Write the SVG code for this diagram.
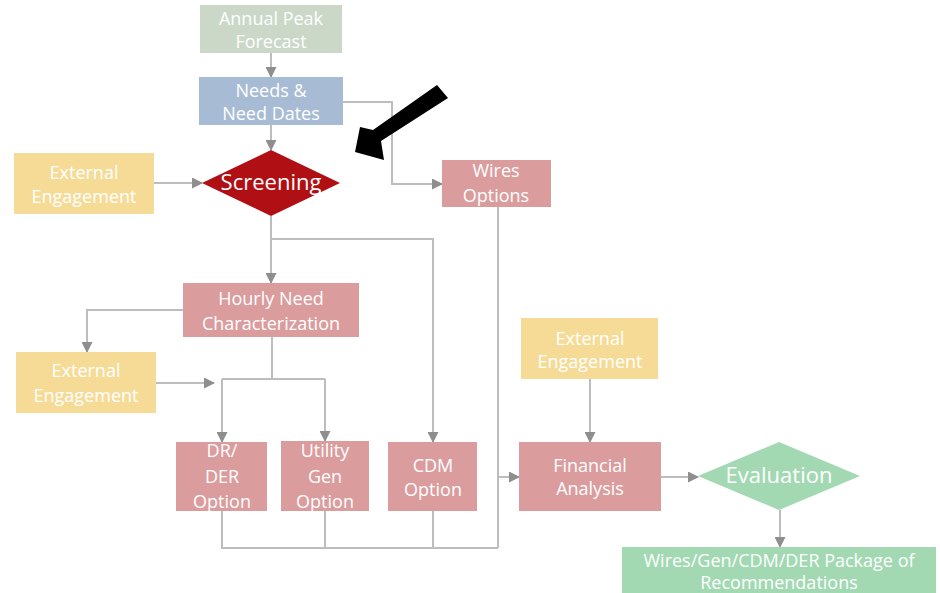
<svg xmlns="http://www.w3.org/2000/svg" width="940" height="593" viewBox="0 0 940 593">
<defs>
<marker id="ah" markerUnits="userSpaceOnUse" markerWidth="11" markerHeight="11" refX="10" refY="5.5" orient="auto">
<path d="M0,0 L11,5.5 L0,11 z" fill="#8e8e8e"/>
</marker>
<style>
.c{fill:none;stroke:#bdbdbd;stroke-width:2}
.a{marker-end:url(#ah)}
.t{font-family:"Open Sans","Noto Sans",sans-serif;font-size:18px;fill:#ffffff;text-anchor:middle}
.big{font-size:22px}
.g{fill:#cbd8c8}
.b{fill:#a7bcd4}
.y{fill:#f6db96}
.p{fill:#db9c9e}
.gr{fill:#a2d9b3}
</style>
</defs>
<rect width="940" height="593" fill="#ffffff"/>
<g id="connectors">
<path class="c a" d="M271,53 V77"/>
<path class="c a" d="M271,125 V150"/>
<path class="c a" d="M343,102 H392 V184 H442"/>
<path class="c a" d="M154,183 H202"/>
<path class="c a" d="M271,216 V283"/>
<path class="c a" d="M271,239 H433 V442"/>
<path class="c a" d="M183,310 H87 V352"/>
<path class="c a" d="M156,383 H214"/>
<path class="c" d="M272,337 V379"/>
<path class="c" d="M222,379 H325"/>
<path class="c a" d="M222,379 V442"/>
<path class="c a" d="M325,379 V441"/>
<path class="c" d="M222,511 V548 H498"/>
<path class="c" d="M325,511 V548"/>
<path class="c" d="M433,511 V548"/>
<path class="c" d="M498,207 V548"/>
<path class="c a" d="M498,477 H519"/>
<path class="c a" d="M590,379 V442"/>
<path class="c a" d="M661,477 H698"/>
<path class="c a" d="M780,510 V547"/>
</g>
<g id="annual"><rect class="g" x="200" y="5" width="142" height="48"/><text class="t" x="271" y="25">Annual Peak</text><text class="t" x="271" y="48">Forecast</text></g>
<g id="needs"><rect class="b" x="199" y="77" width="144" height="48"/><text class="t" x="271" y="97">Needs &amp;</text><text class="t" x="271" y="120">Need Dates</text></g>
<g id="ext1"><rect class="y" x="14" y="153" width="140" height="61"/><text class="t" x="84" y="179">External</text><text class="t" x="84" y="203">Engagement</text></g>
<g id="screening"><polygon points="202,183 271,150 340,183 271,216" fill="#b00f14"/><text class="t big" x="271" y="190">Screening</text></g>
<g id="wires"><rect class="p" x="442" y="160" width="109" height="47"/><text class="t" x="496" y="177">Wires</text><text class="t" x="496" y="202">Options</text></g>
<g id="hourly"><rect class="p" x="183" y="283" width="176" height="54"/><text class="t" x="271" y="305">Hourly Need</text><text class="t" x="271" y="330">Characterization</text></g>
<g id="ext2"><rect class="y" x="16" y="352" width="140" height="61"/><text class="t" x="86" y="377">External</text><text class="t" x="86" y="402">Engagement</text></g>
<g id="dr"><rect class="p" x="176" y="442" width="91" height="69"/><text class="t" x="222" y="457">DR/</text><text class="t" x="222" y="483">DER</text><text class="t" x="222" y="508">Option</text></g>
<g id="utility"><rect class="p" x="281" y="441" width="88" height="70"/><text class="t" x="325" y="457">Utility</text><text class="t" x="325" y="483">Gen</text><text class="t" x="325" y="508">Option</text></g>
<g id="cdm"><rect class="p" x="388" y="442" width="89" height="69"/><text class="t" x="433" y="472">CDM</text><text class="t" x="433" y="496">Option</text></g>
<g id="ext3"><rect class="y" x="521" y="318" width="137" height="61"/><text class="t" x="590" y="345">External</text><text class="t" x="590" y="368">Engagement</text></g>
<g id="financial"><rect class="p" x="519" y="442" width="142" height="69"/><text class="t" x="590" y="472">Financial</text><text class="t" x="590" y="495">Analysis</text></g>
<g id="evaluation"><polygon points="698,476 779,442 860,476 779,510" fill="#a2d9b3"/><text class="t big" x="779" y="483">Evaluation</text></g>
<g id="package"><rect class="gr" x="622" y="547" width="314" height="46"/><text class="t" x="779" y="567">Wires/Gen/CDM/DER Package of</text><text class="t" x="779" y="589">Recommendations</text></g>
<g id="pointer"><polygon points="437,85 448,98 381,141 384,160 355,152 360,127 373,130" fill="#000000"/></g>
</svg>
